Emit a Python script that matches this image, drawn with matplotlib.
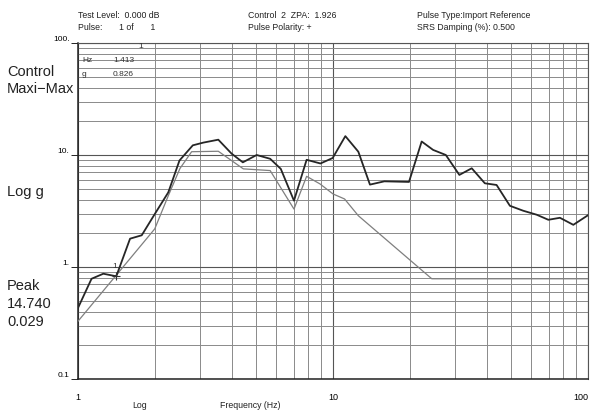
import numpy as np
import matplotlib
matplotlib.use("Agg")
import matplotlib.pyplot as plt
from matplotlib.ticker import LogLocator, NullFormatter, FixedLocator, FixedFormatter

plt.rcParams['font.family'] = ['Liberation Sans', 'DejaVu Sans']

# control (black) SRS curve
ctrl_freq = [1.0, 1.13, 1.257, 1.413, 1.6, 1.778, 2.0, 2.26, 2.5, 2.82, 3.1, 3.55,
             4.0, 4.43, 5.02, 5.67, 6.24, 7.03, 7.88, 8.93, 9.97, 11.18, 12.57,
             13.96, 15.9, 19.86, 22.27, 24.7, 27.7, 31.3, 35.0, 39.4, 43.8, 49.4,
             55.7, 62.9, 69.9, 77.6, 87.6, 100.0]
ctrl_g = [0.431, 0.785, 0.871, 0.826, 1.79, 1.92, 2.97, 4.64, 8.93, 12.2, 12.9, 13.7,
          10.3, 8.6, 10.0, 9.25, 7.52, 3.91, 9.06, 8.4, 9.4, 14.74, 10.7,
          5.44, 5.82, 5.75, 13.2, 11.1, 10.0, 6.64, 7.61, 5.59, 5.4, 3.52,
          3.18, 2.93, 2.64, 2.75, 2.38, 2.9]

# reference (gray) curve
ref_freq = [1.0, 2.0, 2.26, 2.51, 2.79, 3.55, 4.45, 5.67, 7.03, 7.88, 8.89, 10.0,
            11.1, 12.57, 24.4, 100.0]
ref_g = [0.328, 2.19, 4.33, 7.57, 10.7, 10.8, 7.52, 7.26, 3.29, 6.45, 5.52, 4.49,
         4.05, 2.87, 0.785, 0.785]

cursor_hz = 1.413
cursor_g = 0.826

y_ticks = [0.1, 1, 10, 100]
y_labels = ['0.1', '1.', '10.', '100.']
x_ticks = [1, 10, 100]
x_labels = ['1', '10', '100']

fig = plt.figure(figsize=(5.9, 4.12), dpi=100)
ax = fig.add_axes([78/590, 33/412, 510/590, 336/412])
ax.set_xscale('log')
ax.set_yscale('log')
ax.set_xlim(1, 100)
ax.set_ylim(0.1, 100)

# grid
ax.xaxis.set_minor_locator(LogLocator(base=10, subs=np.arange(2, 10)))
ax.yaxis.set_minor_locator(LogLocator(base=10, subs=np.arange(2, 10)))
ax.xaxis.set_minor_formatter(NullFormatter())
ax.yaxis.set_minor_formatter(NullFormatter())
ax.grid(True, which='major', color='#555555', lw=0.8)
ax.grid(True, which='minor', color='#8a8a8a', lw=0.7)

ax.plot(ref_freq, ref_g, color='#7f7f7f', lw=0.9, zorder=3)
ax.plot(ctrl_freq, ctrl_g, color='#262626', lw=1.3, zorder=4)

# cursor
ax.plot([cursor_hz], [cursor_g], marker='+', color='#333333', ms=6, mew=0.8, zorder=5)
ax.annotate('1', (cursor_hz, cursor_g), xytext=(-3, 6), textcoords='offset points',
            fontsize=6, color='#333333')

ax.yaxis.set_major_locator(FixedLocator(y_ticks))
ax.yaxis.set_major_formatter(FixedFormatter(y_labels))
ax.xaxis.set_major_locator(FixedLocator(x_ticks))
ax.xaxis.set_major_formatter(FixedFormatter(x_labels))
ax.tick_params(axis='y', which='major', length=5, width=0.6, labelsize=6, pad=1)
ax.tick_params(axis='x', which='major', length=0, labelsize=6.5, pad=10)
ax.tick_params(which='minor', length=0)
for lab in ax.get_yticklabels():
    lab.set_va('bottom')
ax.get_xticklabels()[-1].set_ha('right')

for side in ['left', 'bottom']:
    ax.spines[side].set_linewidth(1.1)
    ax.spines[side].set_color('#222222')
for side in ['top', 'right']:
    ax.spines[side].set_linewidth(0.8)
    ax.spines[side].set_color('#555555')

# cursor readout inside the plot
ax.text(60/510, 1 - 7/336, '1', transform=ax.transAxes, fontsize=6, va='bottom', color='#333333')
ax.text(4/510, 1 - 18/336, 'Hz', transform=ax.transAxes, fontsize=6, va='center', color='#333333')
ax.text(35/510, 1 - 18/336, '1.413', transform=ax.transAxes, fontsize=6, va='center', color='#333333')
ax.text(4/510, 1 - 31/336, 'g', transform=ax.transAxes, fontsize=6, va='center', color='#333333')
ax.text(35/510, 1 - 32/336, '0.826', transform=ax.transAxes, fontsize=6, va='center', color='#333333')

# header
hdr = dict(fontsize=6.3, color='#222222', va='center')
fig.text(78/590, 1 - 16/412, 'Test Level:  0.000 dB', **hdr)
fig.text(78/590, 1 - 28/412, 'Pulse:       1 of       1', **hdr)
fig.text(248/590, 1 - 16/412, 'Control  2  ZPA:  1.926', **hdr)
fig.text(248/590, 1 - 28/412, 'Pulse Polarity: +', **hdr)
fig.text(417/590, 1 - 16/412, 'Pulse Type:Import Reference', **hdr)
fig.text(417/590, 1 - 28/412, 'SRS Damping (%): 0.500', **hdr)

# left side labels
side = dict(fontsize=10.5, color='#222222', va='center')
fig.text(7/590, 1 - 72/412, 'Control', **side)
fig.text(7/590, 1 - 89/412, 'Maxi\u2212Max', **side)
fig.text(7/590, 1 - 192/412, 'Log g', **side)
fig.text(7/590, 1 - 286/412, 'Peak', **side)
fig.text(7/590, 1 - 304/412, '14.740', **side)
fig.text(7/590, 1 - 322/412, '0.029', **side)

# bottom labels
fig.text(140/590, 1 - 406/412, 'Log', fontsize=6.3, color='#222222', va='center', ha='center')
fig.text(250/590, 1 - 406/412, 'Frequency (Hz)', fontsize=6.3, color='#222222', va='center', ha='center')

fig.savefig('out.png', dpi=100)
